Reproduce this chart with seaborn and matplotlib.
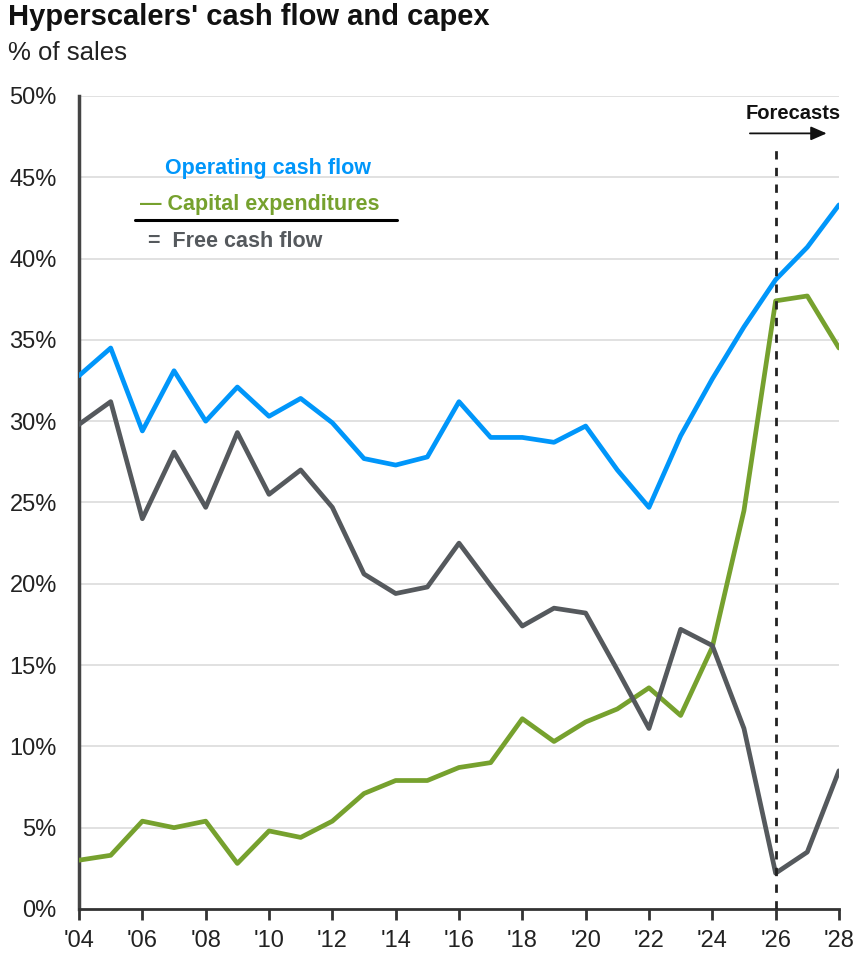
import matplotlib
matplotlib.use("Agg")
import matplotlib.pyplot as plt
import seaborn as sns
import pandas as pd
import numpy as np

years = list(range(2004, 2029))
operating_cash_flow = [32.8, 34.5, 29.4, 33.1, 30.0, 32.1, 30.3, 31.4, 29.9, 27.7, 27.3, 27.8,
                       31.2, 29.0, 29.0, 28.7, 29.7, 27.0, 24.7, 29.1, 32.6, 35.8, 38.7, 40.7, 43.3]
capital_expenditures = [3.0, 3.3, 5.4, 5.0, 5.4, 2.8, 4.8, 4.4, 5.4, 7.1, 7.9, 7.9,
                        8.7, 9.0, 11.7, 10.3, 11.5, 12.3, 13.6, 11.9, 16.1, 24.5, 37.4, 37.7, 34.5]
free_cash_flow = [29.8, 31.2, 24.0, 28.1, 24.7, 29.3, 25.5, 27.0, 24.7, 20.6, 19.4, 19.8,
                  22.5, 19.9, 17.4, 18.5, 18.2, 14.7, 11.1, 17.2, 16.2, 11.1, 2.2, 3.5, 8.5]
series_names = ["Operating cash flow", "Capital expenditures", "Free cash flow"]
tick_years = list(range(2004, 2029, 2))
tick_labels = ["'%02d" % (y % 100) for y in tick_years]
y_ticks = list(range(0, 51, 5))
forecast_start = 2026

colors = {"Operating cash flow": "#0096FA", "Capital expenditures": "#76A12E", "Free cash flow": "#55595D"}

df = pd.DataFrame({
    "year": years * 3,
    "value": operating_cash_flow + capital_expenditures + free_cash_flow,
    "series": [series_names[0]] * len(years) + [series_names[1]] * len(years) + [series_names[2]] * len(years),
})

sns.set_theme(style="white")
plt.rcParams["font.family"] = ["Liberation Sans", "DejaVu Sans"]

fig = plt.figure(figsize=(8.61, 9.57), dpi=100)
ax = fig.add_axes([0.0918, 0.0502, 0.8826, 0.8495])

for name in series_names:
    sub = df[df["series"] == name]
    sns.lineplot(data=sub, x="year", y="value", color=colors[name], linewidth=3.4, ax=ax,
                 legend=False, zorder=3)

ax.set_xlim(2004, 2028)
ax.set_ylim(0, 50)
ax.set_yticks(y_ticks)
ax.set_yticklabels([f"{v}%" for v in y_ticks], fontsize=17, color="#222222")
ax.set_xticks(tick_years)
ax.set_xticklabels(tick_labels, fontsize=17, color="#222222")
ax.set_xlabel("")
ax.set_ylabel("")
for v in y_ticks[1:]:
    ax.axhline(v, color="#dedede", linewidth=1.3, zorder=1)

for s in ["top", "right"]:
    ax.spines[s].set_visible(False)
ax.spines["left"].set_color("#444444")
ax.spines["left"].set_linewidth(2.5)
ax.spines["bottom"].set_color("#333333")
ax.spines["bottom"].set_linewidth(2.0)
ax.tick_params(axis="x", which="both", direction="out", length=8, width=2, color="#333333",
               bottom=True, pad=7)
ax.tick_params(axis="y", which="both", length=0, pad=16)

# forecast divider
ax.plot([forecast_start, forecast_start], [0, 46.8], linestyle=(0, (3, 3)), color="#222222",
        linewidth=2, zorder=4)
ax.text(2026.55, 48.9, "Forecasts", fontsize=14.5, fontweight="bold", ha="center", va="center",
        color="#111111")
ax.annotate("", xy=(2027.7, 47.7), xytext=(2025.1, 47.7),
            arrowprops=dict(arrowstyle="-|>,head_length=0.8,head_width=0.35", color="#111111", lw=1.3))

# legend text block
ax.text(0.113, 0.9114, "Operating cash flow", transform=ax.transAxes, fontsize=15.5,
        fontweight="bold", color=colors["Operating cash flow"], ha="left", va="center")
ax.text(0.080, 0.866, "— Capital expenditures", transform=ax.transAxes, fontsize=15.5,
        fontweight="bold", color=colors["Capital expenditures"], ha="left", va="center")
ax.plot([0.073, 0.419], [0.8475, 0.8475], transform=ax.transAxes, color="#000000", linewidth=2.2,
        clip_on=False)
ax.text(0.091, 0.8216, "=  Free cash flow", transform=ax.transAxes, fontsize=15.5,
        fontweight="bold", color=colors["Free cash flow"], ha="left", va="center")

fig.text(0.009, 0.982, "Hyperscalers' cash flow and capex", fontsize=21, fontweight="bold",
         color="#111111", ha="left", va="center")
fig.text(0.009, 0.945, "% of sales", fontsize=18.5, color="#222222", ha="left", va="center")

fig.savefig("out.png", dpi=100)
